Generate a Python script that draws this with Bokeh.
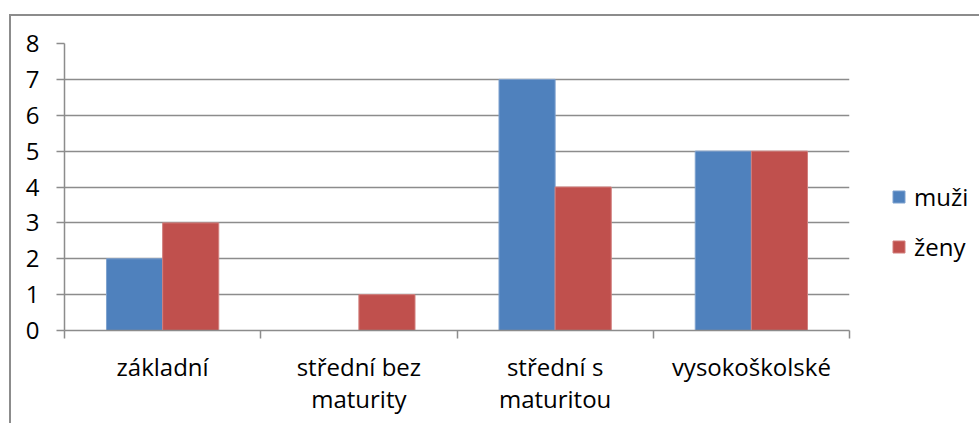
from bokeh.plotting import figure
from bokeh.models import Range1d, Legend, LegendItem, ColumnDataSource, FixedTicker
from bokeh.transform import dodge
from bokeh.embed import file_html
from bokeh.resources import INLINE

categories = ["základní", "střední bez\nmaturity", "střední s\nmaturitou", "vysokoškolské"]
muzi = [2, 0, 7, 5]
zeny = [3, 1, 4, 5]
series_names = ["muži", "ženy"]
y_ticks = [0, 1, 2, 3, 4, 5, 6, 7, 8]

FONT = "Open Sans"
FS = "24px"
BLUE = "#4F81BD"
RED = "#C0504D"
GRID = "#8c8c8c"

centers = [i + 0.5 for i in range(len(categories))]
bounds = [float(i) for i in range(len(categories) + 1)]

src = ColumnDataSource(dict(pos=centers, muzi=muzi, zeny=zeny))

p = figure(x_range=Range1d(0, len(categories)), y_range=(0, 8),
           frame_width=785, frame_height=287,
           min_border_left=53, min_border_top=27, min_border_right=130, min_border_bottom=93,
           output_backend="svg", toolbar_location=None, tools="")
p.margin = (14, 0, 0, 9)
p.styles = {"border-left": "2px solid #8c8c8c", "border-top": "2px solid #8c8c8c"}

r1 = p.vbar(x=dodge("pos", -0.143), top="muzi", width=0.286, source=src,
            fill_color=BLUE, line_color="#7fa2cf", line_width=1)
r2 = p.vbar(x=dodge("pos", 0.143), top="zeny", width=0.286, source=src,
            fill_color=RED, line_color="#d27f7d", line_width=1)

p.xgrid.grid_line_color = None
p.ygrid.grid_line_color = GRID
p.ygrid.grid_line_width = 1.5
p.ygrid.ticker = y_ticks
p.yaxis.ticker = y_ticks
p.outline_line_color = None

p.xaxis.ticker = FixedTicker(ticks=centers, minor_ticks=bounds)
p.xaxis.major_label_overrides = {c: lab for c, lab in zip(centers, categories)}

for ax in (p.xaxis, p.yaxis):
    ax.axis_line_color = GRID
    ax.axis_line_width = 1.5
    ax.major_tick_line_color = GRID
    ax.major_tick_line_width = 1.5
    ax.major_tick_out = 8
    ax.major_tick_in = 0
    ax.minor_tick_line_color = None
    ax.major_label_text_font = FONT
    ax.major_label_text_font_size = FS
    ax.major_label_text_color = "black"

p.xaxis.major_tick_line_color = None
p.xaxis.minor_tick_line_color = GRID
p.xaxis.minor_tick_line_width = 1.5
p.xaxis.minor_tick_out = 8
p.xaxis.minor_tick_in = 0
p.yaxis.major_label_standoff = 17
p.xaxis.major_label_standoff = 11
p.xaxis.major_label_text_line_height = 0.98

legend = Legend(items=[LegendItem(label=series_names[0], renderers=[r1]),
                       LegendItem(label=series_names[1], renderers=[r2])],
                location=(42, 67), orientation="vertical")
legend.padding = 0
legend.margin = 0
legend.border_line_alpha = 0
legend.background_fill_alpha = 0
legend.glyph_width = 15
legend.glyph_height = 15
legend.label_height = 20
legend.spacing = 17
legend.label_text_font = FONT
legend.label_text_font_size = FS
legend.label_text_color = "black"
legend.label_standoff = 8
p.add_layout(legend, "right")

open("out.html", "w").write(file_html(p, INLINE))
